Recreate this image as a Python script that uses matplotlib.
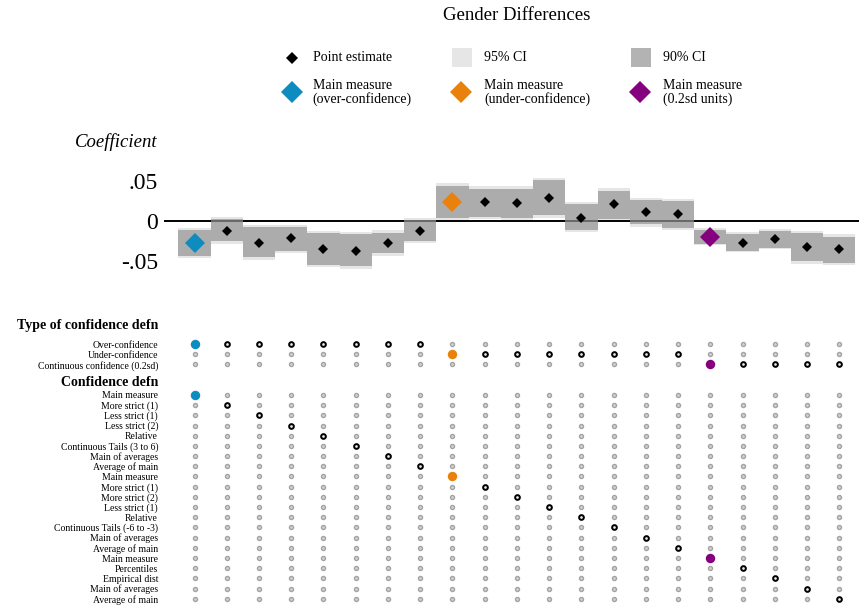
import matplotlib
matplotlib.use("Agg")
import matplotlib.pyplot as plt
from matplotlib.patches import Rectangle

plt.rcParams['font.family'] = ['Liberation Serif', 'DejaVu Serif']

# ---- data -------------------------------------------------------------
estimates = [-0.028, -0.0125, -0.028, -0.022, -0.036, -0.038, -0.028, -0.0125,
             0.024, 0.024, 0.0225, 0.029, 0.004, 0.021, 0.0105, 0.008,
             -0.021, -0.0275, -0.023, -0.0325, -0.036]
ci90_lo = [-0.044, -0.026, -0.046, -0.038, -0.055, -0.057, -0.041, -0.025,
           0.004, 0.005, 0.004, 0.007, -0.0115, 0.002, -0.0045, -0.009,
           -0.029, -0.0375, -0.034, -0.051, -0.053]
ci90_hi = [-0.012, 0.002, -0.0085, -0.008, -0.016, -0.017, -0.015, 0.001,
           0.044, 0.040, 0.040, 0.051, 0.0205, 0.0375, 0.026, 0.0245,
           -0.0115, -0.0165, -0.013, -0.016, -0.020]
ci95_lo = [-0.047, -0.029, -0.049, -0.041, -0.058, -0.060, -0.044, -0.028,
           0.001, 0.002, 0.001, 0.004, -0.0145, -0.001, -0.0075, -0.012,
           -0.031, -0.0395, -0.036, -0.054, -0.056]
ci95_hi = [-0.009, 0.005, -0.0055, -0.005, -0.013, -0.014, -0.012, 0.004,
           0.047, 0.043, 0.043, 0.054, 0.0235, 0.0405, 0.029, 0.0275,
           -0.0095, -0.0145, -0.011, -0.013, -0.017]

type_labels = ["Over-confidence", "Under-confidence", "Continuous confidence (0.2sd)"]
defn_labels = ["Main measure", "More strict (1)", "Less strict (1)", "Less strict (2)",
               "Relative", "Continuous Tails (3 to 6)", "Main of averages", "Average of main",
               "Main measure", "More strict (1)", "More strict (2)", "Less strict (1)",
               "Relative", "Continuous Tails (-6 to -3)", "Main of averages", "Average of main",
               "Main measure", "Percentiles", "Empirical dist", "Main of averages",
               "Average of main"]
spec_type = [0, 0, 0, 0, 0, 0, 0, 0, 1, 1, 1, 1, 1, 1, 1, 1, 2, 2, 2, 2, 2]
spec_defn = [0, 1, 2, 3, 4, 5, 6, 7, 8, 9, 10, 11, 12, 13, 14, 15, 16, 17, 18, 19, 20]
main_specs = [0, 8, 16]
main_names = ["Main measure\n(over-confidence)", "Main measure\n(under-confidence)",
              "Main measure\n(0.2sd units)"]

# ---- styles -----------------------------------------------------------
C_BLUE, C_ORANGE, C_PURPLE = "#0e8cbf", "#e8820c", "#84007f"
main_colors = [C_BLUE, C_ORANGE, C_PURPLE]
C90, C95 = "#b3b3b3", "#e6e6e6"

W, H = 859, 606
fig = plt.figure(figsize=(W / 100, H / 100), dpi=100)


def fx(px):
    return px / W


def fy(py):
    return 1 - py / H


n = len(estimates)
xs = list(range(1, n + 1))
XLIM = (0.054, 21.61)

# ---- coefficient panel -------------------------------------------------
ax = fig.add_axes([fx(164), fy(285), 1 - fx(164), (285 - 160) / H])
ax.bar(xs, [h - l for h, l in zip(ci95_hi, ci95_lo)], bottom=ci95_lo, width=1.0,
       color=C95, zorder=1, linewidth=0)
ax.axhline(0, color="black", lw=1.4, zorder=2)
ax.bar(xs, [h - l for h, l in zip(ci90_hi, ci90_lo)], bottom=ci90_lo, width=1.0,
       color="#949494", alpha=0.7, zorder=3, linewidth=0)
reg = [i for i in range(n) if i not in main_specs]
ax.plot([xs[i] for i in reg], [estimates[i] for i in reg], "D", color="black",
        ms=5.6, mew=0, zorder=4, linestyle="none")
for k, i in enumerate(main_specs):
    ax.plot(xs[i], estimates[i], "D", color=main_colors[k], ms=10, mew=0, zorder=5)
ax.set_xlim(*XLIM)
ax.set_ylim(-0.0804, 0.0759)
ax.set_yticks([-0.05, 0, 0.05])
ax.set_yticklabels(["-.05", "0", ".05"], fontsize=17)
ax.tick_params(axis="y", length=0, pad=4.3)
ax.set_xticks([])
for s in ax.spines.values():
    s.set_visible(False)
ax.patch.set_alpha(0)

fig.text(fx(158), fy(142), "Coefficient", style="italic", fontsize=13.5,
         ha="right", va="center")
fig.text(fx(517), fy(15), "Gender Differences", fontsize=13.5, ha="center", va="center")

# ---- specification panel ----------------------------------------------
bx = fig.add_axes([fx(164), 0, 1 - fx(164), (606 - 310) / H])
type_rows = [0, 1, 2]
defn_rows = [5 + j for j in range(len(defn_labels))]
HDR1, HDR2 = -2.0, 3.6

gray_x, gray_y, sel_x, sel_y = [], [], [], []
for i in range(n):
    for j, r in enumerate(type_rows):
        if spec_type[i] == j:
            if i not in main_specs:
                sel_x.append(xs[i]); sel_y.append(r)
        else:
            gray_x.append(xs[i]); gray_y.append(r)
    for j, r in enumerate(defn_rows):
        if spec_defn[i] == j:
            if i not in main_specs:
                sel_x.append(xs[i]); sel_y.append(r)
        else:
            gray_x.append(xs[i]); gray_y.append(r)

bx.plot(gray_x, gray_y, "o", ms=2.9, mfc="#d4d4d4", mec="#a3a3a3", mew=1.0,
        linestyle="none")
bx.plot(sel_x, sel_y, "o", ms=3.4, mfc="#e8e8e8", mec="black", mew=1.4,
        linestyle="none")
for k, i in enumerate(main_specs):
    bx.plot([xs[i], xs[i]], [type_rows[spec_type[i]], defn_rows[spec_defn[i]]], "o",
            ms=6.8, color=main_colors[k], mew=0, linestyle="none")

ticks = [HDR1] + type_rows + [HDR2] + defn_rows
labels = ["Type of confidence defn"] + type_labels + ["Confidence defn"] + defn_labels
bx.set_yticks(ticks)
bx.set_yticklabels(labels, fontsize=7)
for t, lab in zip(bx.get_yticklabels(), labels):
    if lab in ("Type of confidence defn", "Confidence defn"):
        t.set_fontweight("bold")
        t.set_fontsize(10)
bx.tick_params(axis="y", length=0, pad=4.3)
bx.set_xticks([])
bx.set_xlim(*XLIM)
bx.set_ylim(25.71, -3.34)
for s in bx.spines.values():
    s.set_visible(False)
bx.patch.set_alpha(0)

# ---- key ----------------------------------------------------------------
lax = fig.add_axes([0, 0, 1, 1])
lax.set_xlim(0, W)
lax.set_ylim(H, 0)
lax.axis("off")
lax.patch.set_alpha(0)

lax.plot(291.7, 57.7, "D", color="black", ms=6.1, mew=0)
lax.text(312.7, 57.5, "Point estimate", fontsize=10, ha="left", va="center")
lax.add_patch(Rectangle((451.5, 48.3), 20, 19, color=C95, lw=0))
lax.text(484, 57.5, "95% CI", fontsize=10, ha="left", va="center")
lax.add_patch(Rectangle((630.5, 48.3), 20, 19, color=C90, lw=0))
lax.text(663, 57.5, "90% CI", fontsize=10, ha="left", va="center")

for k, (hx, tx) in enumerate([(291.7, 312.7), (461, 484), (640, 663)]):
    lax.plot(hx, 91.7, "D", color=main_colors[k], ms=11.2, mew=0)
    lax.text(tx, 92.5, main_names[k], fontsize=10, ha="left", va="center",
             linespacing=1.05)

fig.savefig("out.png", dpi=100)
